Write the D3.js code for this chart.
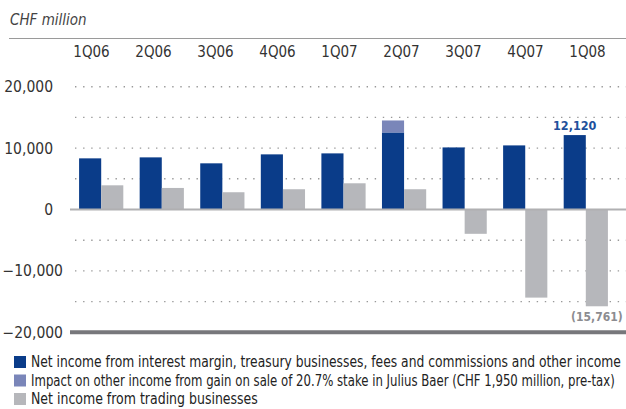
<!DOCTYPE html>
<html>
<head>
<meta charset="utf-8">
<script src="https://cdn.jsdelivr.net/npm/d3@7"></script>
<style>
  body { margin: 0; background: #fff; }
  svg { display: block; font-family: "Liberation Sans Narrow", "DejaVu Sans Condensed", "Noto Sans", sans-serif; }
</style>
</head>
<body>
<svg id="chart"></svg>
<script>
// Data (CHF million)
const QUARTERS = ['1Q06', '2Q06', '3Q06', '4Q06', '1Q07', '2Q07', '3Q07', '4Q07', '1Q08'];
const CORE_INCOME = [8330, 8490, 7520, 8980, 9140, 12550, 10110, 10440, 12120];
const JULIUS_BAER = [0, 0, 0, 0, 0, 1950, 0, 0, 0];
const TRADING_INCOME = [3940, 3510, 2810, 3300, 4270, 3300, -3960, -14350, -15761];
const Y_TICKS = [20000, 10000, 0, -10000, -20000];
const GRID_VALUES = [20000, 15000, 10000, 5000, -5000, -10000, -15000];
const LEGEND = [
  'Net income from interest margin, treasury businesses, fees and commissions and other income',
  'Impact on other income from gain on sale of 20.7% stake in Julius Baer (CHF 1,950 million, pre-tax)',
  'Net income from trading businesses'
];

const width = 626;
const height = 409;
const COLORS = { core: '#0a3c89', jb: '#7a86b9', trading: '#b6b7bb' };

const svg = d3.select('#chart')
  .attr('width', width)
  .attr('height', height);

// Scales
const y = d3.scaleLinear([-20000, 20000], [332.3, 86.7]);
const x = d3.scaleBand(QUARTERS, [70, 617])
  .paddingInner(0.27)
  .paddingOuter(0.15);
const xSub = d3.scaleBand(['core', 'trading'], [0, x.bandwidth()]);
const xLabel = d3.scalePoint(QUARTERS, [91.5, 587.5]);

const fmt = d3.format(',');

// Unit label and top rule
svg.append('text')
  .attr('x', 10)
  .attr('y', 25)
  .attr('font-size', 15)
  .attr('font-style', 'italic')
  .attr('fill', '#444')
  .text('CHF million');

svg.append('line')
  .attr('x1', 9).attr('x2', width)
  .attr('y1', 38.5).attr('y2', 38.5)
  .attr('stroke', '#9a9a9a')
  .attr('stroke-width', 1);

// Category labels on top
svg.selectAll('.cat')
  .data(QUARTERS).enter()
  .append('text')
    .attr('class', 'cat')
    .attr('x', d => xLabel(d))
    .attr('y', 57)
    .attr('text-anchor', 'middle')
    .attr('font-size', 15)
    .attr('fill', '#333')
    .text(d => d);

// Dotted gridlines
svg.selectAll('.grid')
  .data(GRID_VALUES).enter()
  .append('line')
    .attr('class', 'grid')
    .attr('x1', 75).attr('x2', width)
    .attr('y1', d => y(d)).attr('y2', d => y(d))
    .attr('stroke', '#999')
    .attr('stroke-width', 1.4)
    .attr('stroke-dasharray', '1.4,6.7');

// Y tick labels
svg.selectAll('.ytick')
  .data(Y_TICKS).enter()
  .append('text')
    .attr('class', 'ytick')
    .attr('x', d => d < 0 ? 63 : 53)
    .attr('y', d => y(d) + 5.5)
    .attr('text-anchor', 'end')
    .attr('font-size', 15.5)
    .attr('fill', '#333')
    .text(d => fmt(d).replace('-', '\u2212'));

// Bars
const groups = svg.selectAll('.quarter')
  .data(QUARTERS).enter()
  .append('g')
    .attr('class', 'quarter')
    .attr('transform', d => `translate(${x(d)},0)`);

groups.append('rect')
  .attr('x', xSub('core'))
  .attr('width', xSub.bandwidth())
  .attr('y', (d, i) => y(CORE_INCOME[i]))
  .attr('height', (d, i) => y(0) - y(CORE_INCOME[i]))
  .attr('fill', COLORS.core);

groups.filter((d, i) => JULIUS_BAER[i] > 0)
  .append('rect')
    .attr('x', xSub('core'))
    .attr('width', xSub.bandwidth())
    .attr('y', d => {
      const i = QUARTERS.indexOf(d);
      return y(CORE_INCOME[i] + JULIUS_BAER[i]);
    })
    .attr('height', d => {
      const i = QUARTERS.indexOf(d);
      return y(CORE_INCOME[i]) - y(CORE_INCOME[i] + JULIUS_BAER[i]);
    })
    .attr('fill', COLORS.jb);

groups.append('rect')
  .attr('x', xSub('trading'))
  .attr('width', xSub.bandwidth())
  .attr('y', (d, i) => y(Math.max(0, TRADING_INCOME[i])))
  .attr('height', (d, i) => Math.abs(y(0) - y(TRADING_INCOME[i])))
  .attr('fill', COLORS.trading);

// Zero line and bottom rule
svg.append('line')
  .attr('x1', 70).attr('x2', width)
  .attr('y1', y(0)).attr('y2', y(0))
  .attr('stroke', '#b0b0b2')
  .attr('stroke-width', 2);

svg.append('line')
  .attr('x1', 70).attr('x2', width)
  .attr('y1', y(-20000)).attr('y2', y(-20000))
  .attr('stroke', '#77777b')
  .attr('stroke-width', 4);

// Value labels for last quarter
const last = QUARTERS.length - 1;
const lastQ = QUARTERS[last];
svg.append('text')
  .attr('x', x(lastQ) + xSub('core') + xSub.bandwidth() / 2)
  .attr('y', y(CORE_INCOME[last]) - 5)
  .attr('text-anchor', 'middle')
  .attr('font-size', 12.5)
  .attr('font-weight', 'bold')
  .attr('fill', '#21509c')
  .text(fmt(CORE_INCOME[last]));

svg.append('text')
  .attr('x', x(lastQ) + xSub('trading') + xSub.bandwidth() / 2)
  .attr('y', y(TRADING_INCOME[last]) + 15)
  .attr('text-anchor', 'middle')
  .attr('font-size', 12)
  .attr('font-weight', 'bold')
  .attr('fill', '#8c8c90')
  .text(`(${fmt(-TRADING_INCOME[last])})`);

// Legend - text squeezed horizontally to the widths of the reference
const legendColors = [COLORS.core, COLORS.jb, COLORS.trading];
const legendWidths = [590, 584, 227];
const legend = svg.selectAll('.legend')
  .data(LEGEND).enter()
  .append('g')
    .attr('class', 'legend')
    .attr('transform', (d, i) => `translate(14, ${356 + i * 18.5})`);

legend.append('rect')
  .attr('width', 12)
  .attr('height', 12)
  .attr('fill', (d, i) => legendColors[i]);

legend.append('text')
  .attr('y', 11)
  .attr('font-size', 15)
  .attr('fill', '#222')
  .text(d => d)
  .each(function(d, i) {
    const w = this.getComputedTextLength();
    const sx = Math.min(1, legendWidths[i] / w);
    d3.select(this).attr('transform', `translate(17,0) scale(${sx},1)`);
  });
</script>
</body>
</html>
